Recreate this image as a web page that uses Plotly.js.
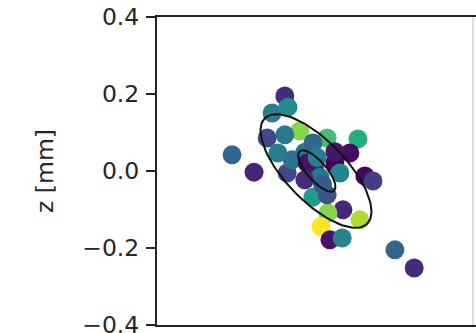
<!DOCTYPE html>
<html>
<head>
<meta charset="utf-8">
<script src="https://cdn.plot.ly/plotly-3.0.1.min.js"></script>
<style>
html,body{margin:0;padding:0;background:#fff;}
#chart{width:476px;height:333px;}
</style>
</head>
<body>
<div id="chart"></div>
<script>
// scatter points (x, z in mm) and colour value (0..1, viridis)
var xVals = [-0.205,-0.148,-0.068,-0.101,-0.060,-0.114,-0.029,0.042,0.122,0.101,
             0.062,0.140,0.161,0.083,0.044,0.127,0.026,0.049,0.081,0.218,
             0.268,-0.062,0.005,0.042,-0.086,-0.049,-0.016,-0.068,0.005,0.010,
             -0.010,0.023,-0.016,0.075,0.016,0.062,0.030];
var zVals = [0.042,-0.003,0.195,0.151,0.166,0.086,0.104,0.086,0.083,0.047,
             0.021,-0.013,-0.026,-0.101,-0.109,-0.127,-0.145,-0.179,-0.174,-0.205,
             -0.252,-0.005,-0.068,-0.062,0.047,0.029,0.049,0.094,0.073,0.003,
             0.021,-0.016,-0.023,-0.005,0.035,0.050,-0.035];
var cVals = [0.32,0.10,0.12,0.42,0.48,0.22,0.82,0.70,0.62,0.03,
             0.00,0.02,0.18,0.10,0.82,0.88,1.00,0.05,0.45,0.32,
             0.12,0.22,0.55,0.25,0.42,0.38,0.40,0.40,0.33,0.10,
             0.05,0.40,0.12,0.45,0.42,0.06,0.28];

// covariance ellipses: centre, semi-axes, rotation (deg)
var ellCx = [0.013, 0.015];
var ellCz = [0.000, 0.000];
var ellA  = [0.191, 0.068];
var ellB  = [0.078, 0.025];
var ellAng = [-46, -49];

var yTicks = [-0.4,-0.2,0.0,0.2,0.4];
var yTickText = ['\u22120.4','\u22120.2','0.0','0.2','0.4'];

var traces = [{
  type:'scatter', mode:'markers', x:xVals, y:zVals,
  marker:{size:19, color:cVals, colorscale:'Viridis', cmin:0, cmax:1, line:{width:0}},
  hoverinfo:'skip', showlegend:false
}];
for (var k=0;k<ellCx.length;k++){
  var ex=[], ey=[], th=ellAng[k]*Math.PI/180;
  for (var i=0;i<=120;i++){
    var t=2*Math.PI*i/120;
    var u=ellA[k]*Math.cos(t), v=ellB[k]*Math.sin(t);
    ex.push(ellCx[k]+u*Math.cos(th)-v*Math.sin(th));
    ey.push(ellCz[k]+u*Math.sin(th)+v*Math.cos(th));
  }
  traces.push({type:'scatter', mode:'lines', x:ex, y:ey,
    line:{color:'#111', width:2}, hoverinfo:'skip', showlegend:false});
}

var layout = {
  width:476, height:333,
  margin:{l:157, r:0, t:17, b:8, pad:0},
  paper_bgcolor:'#fff', plot_bgcolor:'#fff',
  font:{family:'DejaVu Sans', size:23.5, color:'#262626'},
  xaxis:{range:[-0.4,0.4286], showgrid:false, zeroline:false, showticklabels:false,
         ticks:'', showline:true, mirror:true, linecolor:'#222', linewidth:2, fixedrange:true},
  yaxis:{range:[-0.4004,0.4004], showgrid:false, zeroline:false, tickvals:yTicks, ticktext:yTickText,
         ticks:'outside', ticklen:9, tickwidth:2, tickcolor:'#222', ticklabelstandoff:2,
         ticklabeloverflow:'allow', automargin:false,
         showline:true, linecolor:'#222', linewidth:2,
         title:{text:'z [mm]', font:{size:23.5, color:'#262626'}, standoff:22}, fixedrange:true},
  shapes:[{type:'line', xref:'paper', yref:'paper', x0:0.9906, x1:0.9906, y0:0, y1:1,
           line:{color:'#d0d0d0', width:1.5}}]
};
Plotly.newPlot('chart', traces, layout, {staticPlot:true, displayModeBar:false});
</script>
</body>
</html>
